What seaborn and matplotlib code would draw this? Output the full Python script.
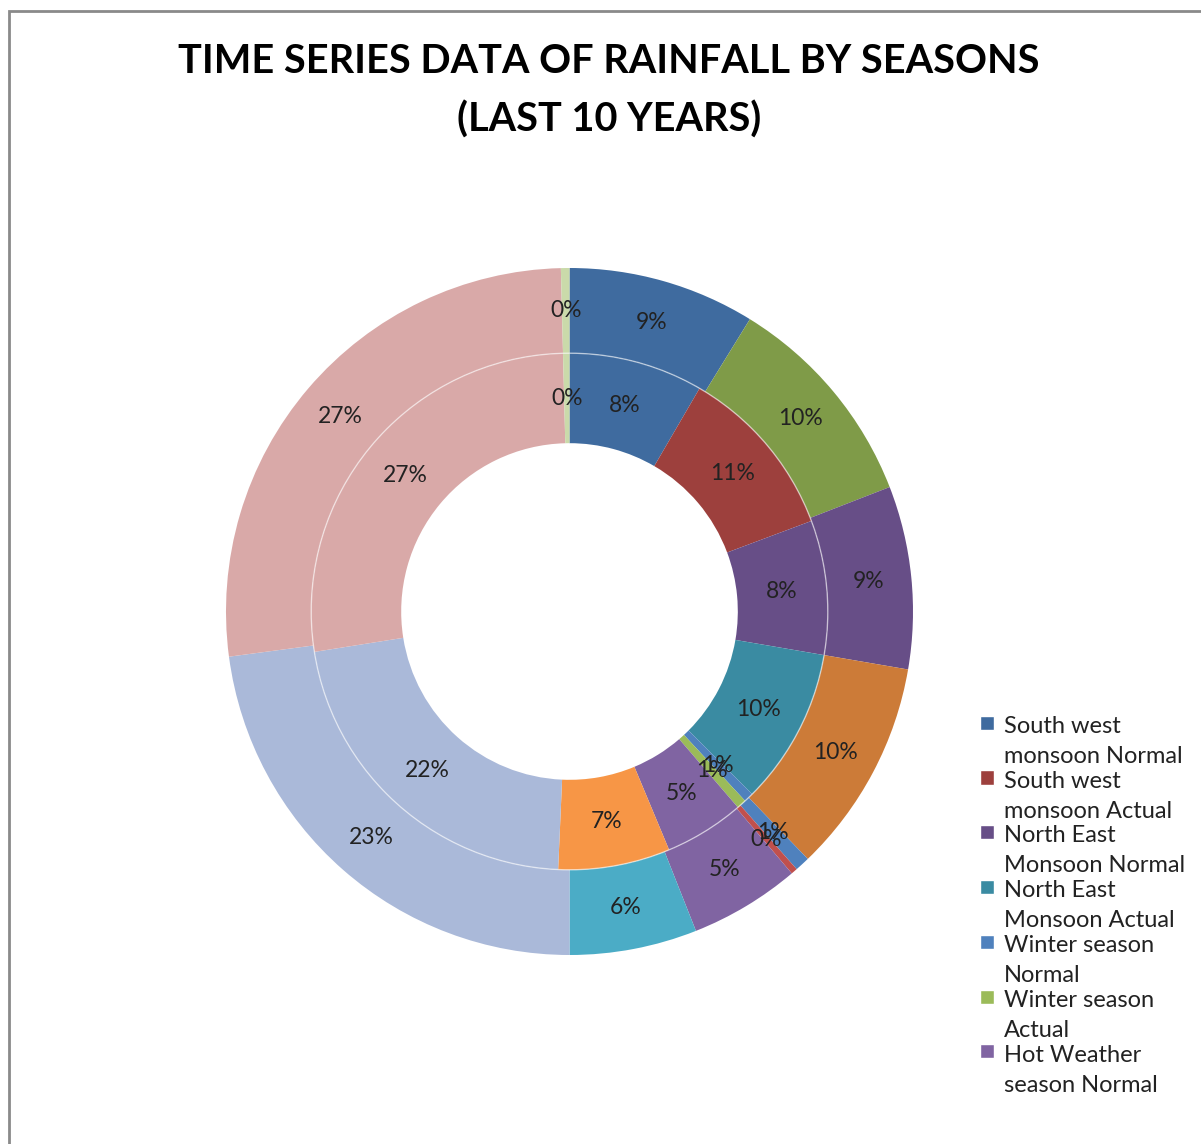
import matplotlib
matplotlib.use("Agg")
import matplotlib.pyplot as plt
from matplotlib.patches import Circle, Rectangle
from matplotlib.legend_handler import HandlerPatch
import seaborn as sns

# rainfall share by category, inner ring and outer ring
inner_values = [8.4, 10.9, 8.4, 9.8, 0.6, 0.6, 5.0, 7.0, 21.8, 27.1, 0.4]
outer_values = [8.8, 10.3, 8.6, 10.1, 0.7, 0.3, 5.2, 6.0, 22.9, 26.7, 0.4]

inner_colors = ["#3F6B9F", "#9D403D", "#674E87", "#3A8BA2", "#4F81BD", "#9BBB59",
                "#8064A2", "#F79646", "#AAB9D9", "#D9A9A8", "#CADAAA"]
outer_colors = ["#3F6B9F", "#7F9B48", "#674E87", "#CC7B38", "#4F81BD", "#C0504D",
                "#8064A2", "#4BACC6", "#AAB9D9", "#D9A9A8", "#CADAAA"]

legend_labels = ["South west\nmonsoon Normal", "South west\nmonsoon Actual",
                 "North East\nMonsoon Normal", "North East\nMonsoon Actual",
                 "Winter season\nNormal", "Winter season\nActual",
                 "Hot Weather\nseason Normal"]

title = "TIME SERIES DATA OF RAINFALL BY SEASONS\n(LAST 10 YEARS)"

sns.set_theme(style="white")
plt.rcParams["font.family"] = ["Lato", "DejaVu Sans"]

W, H = 1201, 1144
fig = plt.figure(figsize=(W / 100, H / 100), dpi=100)

cx, cy, R = 569.5, 611.5, 343.5
ax = fig.add_axes([(cx - R) / W, (H - cy - R) / H, 2 * R / W, 2 * R / H])

r_mid = 0.752
r_hole = 0.49
txt = dict(fontsize=16.5, color="#222222")

outer_w, _, _ = ax.pie(outer_values, colors=outer_colors, radius=1.0, startangle=90,
                       counterclock=False, autopct="%1.0f%%",
                       pctdistance=(1 + r_mid) / 2, textprops=txt,
                       wedgeprops=dict(width=1 - r_mid, edgecolor="none", linewidth=0))
inner_w, _, _ = ax.pie(inner_values, colors=inner_colors, radius=r_mid, startangle=90,
                       counterclock=False, autopct="%1.0f%%",
                       pctdistance=(r_mid + r_hole) / 2 / r_mid, textprops=txt,
                       wedgeprops=dict(width=r_mid - r_hole, edgecolor="none", linewidth=0))
ax.add_patch(Circle((0, 0), r_mid, fill=False, ec=(1, 1, 1, 0.55), lw=1.0))
ax.set_xlim(-1, 1)
ax.set_ylim(-1, 1)
ax.set_aspect("equal")
ax.axis("off")

fig.text(609 / W, 1 - 91 / H, title, ha="center", va="center", fontsize=28.5,
         fontweight="bold", linespacing=1.66, color="black")

# chart area border (only left and top edges are inside the picture)
fig.add_artist(Rectangle((9 / W, -0.1), 1.5, 1 + 0.1 - 11 / H, transform=fig.transFigure,
                         fill=False, ec="#8A8A8A", lw=2))


def top_square(legend, orig_handle, xdescent, ydescent, width, height, fontsize):
    s = fontsize * 0.6
    return Rectangle((width / 2 - s / 2, fontsize * 0.85), s, s)


handles = [Rectangle((0, 0), 1, 1, fc=c) for c in inner_colors[:7]]
leg = fig.legend(handles, legend_labels, loc="upper left",
                 bbox_to_anchor=(966 / W, 1 - 704 / H), frameon=False,
                 fontsize=17, labelspacing=0.16, handlelength=0.8, handletextpad=0.3,
                 borderpad=0, handler_map={Rectangle: HandlerPatch(patch_func=top_square)})
for t in leg.get_texts():
    t.set_linespacing(1.53)
    t.set_color("#222222")

fig.savefig("out.png", dpi=100)
